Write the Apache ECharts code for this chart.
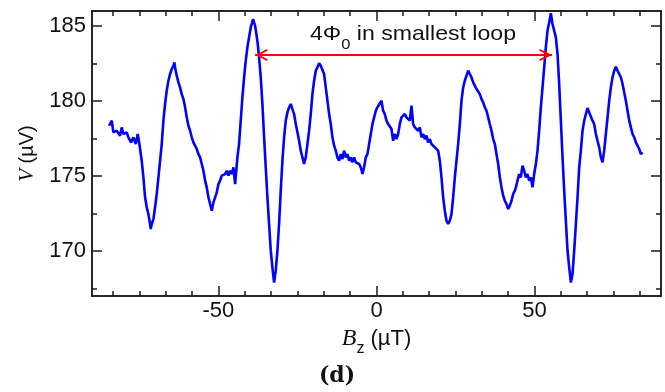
<!DOCTYPE html>
<html>
<head>
<meta charset="utf-8">
<script src="https://cdn.jsdelivr.net/npm/echarts@6.0.0/dist/echarts.min.js"></script>
<style>
html,body{margin:0;padding:0;background:#fff;}
#chart{width:665px;height:392px;}
</style>
</head>
<body>
<div id="chart"></div>
<script>
// Magnetic field B_z (µT)
const bField = [
-84.61,-83.76,-83.23,-82.18,-81.12,-80.60,-80.07,-79.01,-78.49,-77.64,-76.90,-76.17,-75.53,-75.01,-74.27,-73.74,-73.21,-72.68,-72.16,-71.63,-71.42,-71.10,-70.57,-70.05,-69.52,-68.99,-68.46,-67.94,-67.41,-66.88,-66.36,-65.83,-65.30,-64.77,-64.25,-63.93,-63.72,-63.19,-62.66,-62.14,-61.61,-61.08,-60.55,-60.03,-59.50,-58.97,-58.44,-57.92,-57.39,-56.86,-56.33,-55.81,-55.28,-54.75,-54.22,-53.70,-53.17,-52.64,-52.11,-51.59,-51.06,-50.53,-50.00,-49.48,-48.95,-48.42,-47.89,-47.37,-46.84,-46.31,-45.78,-45.26,-44.73,
-44.00,-43.48,-42.95,-42.42,-41.89,-41.36,-40.84,-40.31,-39.78,-39.04,-38.41,-37.99,-37.57,-37.15,-36.62,-36.09,-35.56,-35.04,-34.51,-33.98,-33.45,-32.93,-32.40,-31.87,-31.34,-30.82,-30.29,-29.76,-29.23,-28.71,-28.18,-27.65,-27.12,-26.60,-26.07,-25.54,-25.01,-24.49,-23.96,-23.43,-22.91,-22.38,-21.85,-21.32,-20.80,-20.27,-19.74,-19.21,-18.69,-18.16,-17.63,-17.10,-16.58,-16.05,-15.52,-14.99,-14.47,-13.94,-13.41,-12.88,-12.36,-11.83,-11.30,-10.77,-10.25,-9.72,-9.19,-8.66,-8.14,-7.61,-7.08,-6.55,-6.03,-5.50,-4.97,-4.44,-3.92,-3.39,-2.86,-2.33,-1.81,-1.28,-0.75,-0.22,0.30,0.83,
1.57,2.10,2.63,3.15,3.68,4.21,4.74,5.26,5.79,6.32,6.85,7.37,7.90,8.43,8.96,9.48,10.01,10.54,11.07,11.59,12.12,12.65,13.18,13.70,14.23,14.76,15.29,15.81,16.34,16.87,17.39,17.92,18.45,18.98,19.50,20.03,20.56,21.09,21.61,22.14,22.67,23.20,23.72,24.25,24.78,25.31,25.83,26.36,26.89,27.42,27.94,28.47,29.00,29.53,30.05,30.58,31.11,31.64,32.16,32.69,33.22,33.75,34.27,34.80,35.33,35.85,36.38,36.91,37.44,37.96,38.49,39.02,39.55,40.07,40.60,41.13,41.66,42.18,42.71,43.24,43.77,
44.08,44.61,45.13,45.66,46.19,46.72,47.24,47.77,48.30,48.83,49.35,49.88,50.41,50.94,51.46,51.99,52.52,53.05,53.57,54.10,54.63,55.16,55.68,56.21,56.74,57.27,57.79,58.32,58.85,59.38,59.90,60.43,60.96,61.49,62.01,62.54,63.07,63.60,64.12,64.65,65.18,65.71,66.23,66.76,67.29,67.82,68.34,68.87,69.40,69.92,70.45,70.98,71.51,72.03,72.56,73.09,73.62,74.14,74.67,75.20,75.73,76.25,76.78,77.31,77.84,78.36,78.89,79.42,79.95,80.47,81.00,81.53,82.06,82.58,83.11,83.64,84.17
];
// Voltage V (µV)
const voltage = [
178.35,178.69,177.91,178.02,177.69,178.24,177.80,177.91,177.58,177.24,177.58,177.13,177.80,177.13,176.02,174.91,173.58,172.91,172.46,171.80,171.46,171.80,172.13,172.91,173.80,174.91,176.02,177.13,178.69,179.80,180.69,181.35,181.80,182.13,182.35,182.58,182.24,181.69,181.24,180.91,180.46,180.13,179.58,178.91,178.35,178.02,177.58,177.24,177.02,176.80,176.46,176.24,175.80,175.35,174.69,174.24,173.58,173.13,172.69,173.24,173.35,173.91,174.46,174.69,175.02,174.91,175.13,175.35,175.02,175.35,175.13,175.58,174.46,
176.24,177.13,178.69,180.24,181.58,182.69,183.58,184.24,184.91,185.46,185.02,184.46,183.80,182.91,181.58,179.80,177.58,175.58,173.58,171.80,170.02,168.91,167.90,168.69,170.02,171.80,174.02,176.02,177.58,178.69,179.24,179.58,179.80,179.46,179.13,178.46,177.91,177.35,176.69,176.24,175.80,176.24,177.13,178.02,179.13,180.46,181.35,182.02,182.24,182.51,182.35,182.24,181.80,180.91,180.02,179.13,178.46,177.58,177.02,176.69,176.24,176.02,176.46,176.13,176.69,176.24,176.46,176.02,176.24,175.91,176.24,175.91,176.02,175.80,175.58,175.13,175.58,176.24,176.46,177.13,177.80,178.46,178.91,179.35,179.58,179.69,
180.02,179.35,179.13,178.69,178.46,178.35,178.13,177.35,177.80,177.46,177.80,178.46,178.91,178.80,179.13,178.91,179.02,178.69,179.69,178.46,178.24,178.35,178.02,178.24,177.58,177.80,177.46,177.69,177.24,177.46,177.13,177.24,176.91,177.02,176.69,176.02,174.91,173.58,172.69,172.02,171.80,172.02,172.46,173.58,174.91,176.02,177.13,178.46,180.02,180.91,181.35,181.69,182.02,181.80,181.58,181.24,181.13,180.80,180.69,180.46,180.13,179.91,179.58,179.35,178.91,178.46,178.02,177.46,177.13,176.46,175.80,174.91,174.24,173.69,173.35,173.13,172.80,173.02,173.35,173.80,174.02,
174.24,174.69,175.13,174.91,175.69,175.35,174.91,175.13,174.69,174.91,174.24,175.13,175.80,176.69,178.02,179.58,180.91,182.24,183.58,184.69,185.24,185.85,185.13,184.69,184.24,183.13,181.13,178.69,176.24,174.02,172.02,170.02,168.91,167.90,168.46,170.02,171.80,173.58,175.58,176.69,178.02,178.69,179.13,179.53,179.24,179.13,178.69,178.46,177.80,177.35,176.91,176.24,175.91,176.69,177.80,178.91,180.02,180.91,181.58,182.02,182.29,182.02,181.80,181.58,181.13,180.58,180.02,179.35,178.69,178.24,177.80,177.58,177.24,177.13,176.80,176.46,176.58
];
// Axis ranges and ticks
const xRange = [-90, 90];
const yRange = [167, 186];
const xLabelValues = [-50, 0, 50];
const xMinorTicks = [-83.333, -75, -66.667, -58.333, -41.667, -33.333, -25, -16.667, -8.333, 8.333, 16.667, 25, 33.333, 41.667, 58.333, 66.667, 75, 83.333];
const yLabelValues = [170, 175, 180, 185];
const yMinorTicks = [167.5, 172.5, 177.5, 182.5];
// Annotation arrow endpoints (B, V)
const arrowStart = [-38.4, 183.07];
const arrowEnd = [55.5, 183.07];

const INK = '#1a1a1a';
const SANS = '"Liberation Sans", Arial, sans-serif';
const SERIF = '"Liberation Serif", "Times New Roman", serif';

function xAxisDef(pos, ticks, len, labels) {
  return {
    type: 'value', position: pos, min: xRange[0], max: xRange[1],
    axisLine: { show: true, onZero: false, lineStyle: { color: INK, width: 1.5 } },
    axisTick: { show: true, inside: true, length: len, customValues: ticks, lineStyle: { color: INK, width: 1.5 } },
    axisLabel: labels ? { show: true, customValues: xLabelValues, margin: 4, fontSize: 22, color: '#111', fontFamily: SANS } : { show: false },
    splitLine: { show: false }
  };
}
function yAxisDef(pos, ticks, len, labels) {
  return {
    type: 'value', position: pos, min: yRange[0], max: yRange[1],
    axisLine: { show: true, onZero: false, lineStyle: { color: INK, width: 1.5 } },
    axisTick: { show: true, inside: true, length: len, customValues: ticks, lineStyle: { color: INK, width: 1.5 } },
    axisLabel: labels ? { show: true, customValues: yLabelValues, margin: 6, fontSize: 22, color: '#111', fontFamily: SANS } : { show: false },
    splitLine: { show: false }
  };
}

const xMain = xAxisDef('bottom', xLabelValues, 10, true);
xMain.name = '{i|B}{s|z} (µT)';
xMain.nameLocation = 'middle';
xMain.nameGap = 24;
xMain.nameTextStyle = {
  fontSize: 22, fontFamily: SANS, color: '#111',
  rich: {
    i: { fontSize: 24, fontStyle: 'italic', fontFamily: SERIF, color: '#111' },
    s: { fontSize: 16, fontFamily: SANS, color: '#111', padding: [20, 0, 0, 0] }
  }
};
const yMain = yAxisDef('left', yLabelValues, 10, true);
yMain.name = '{i|V} (µV)';
yMain.nameLocation = 'middle';
yMain.nameGap = 50;
yMain.nameTextStyle = {
  fontSize: 20, fontFamily: SANS, color: '#111',
  rich: { i: { fontSize: 21, fontStyle: 'italic', fontFamily: SERIF, color: '#111' } }
};

const seriesData = bField.map((b, i) => [b, voltage[i]]);
const chevron = 'path://M0,0 L6,12 L4.2,12.6 L0,4 L-4.2,12.6 L-6,12 Z';

const option = {
  animation: false,
  backgroundColor: '#ffffff',
  grid: { left: 92, right: 4, top: 11, bottom: 96, outerBoundsMode: 'none', containLabel: false },
  xAxis: [
    xMain,
    xAxisDef('bottom', xMinorTicks, 5, false),
    xAxisDef('top', xLabelValues, 10, false),
    xAxisDef('top', xMinorTicks, 5, false)
  ],
  yAxis: [
    yMain,
    yAxisDef('left', yMinorTicks, 5, false),
    yAxisDef('right', yLabelValues, 10, false),
    yAxisDef('right', yMinorTicks, 5, false)
  ],
  series: [{
    type: 'line',
    data: seriesData,
    showSymbol: false,
    symbol: 'none',
    smooth: false,
    sampling: 'none',
    lineStyle: { color: '#0000ff', width: 2.6 },
    markLine: {
      silent: true,
      symbol: [chevron, chevron],
      symbolSize: [12, 12.6],
      symbolOffset: [[0, 6.3], [0, 6.3]],
      lineStyle: { color: '#ff0000', width: 2, type: 'solid' },
      itemStyle: { color: '#ff0000' },
      label: { show: false },
      data: [[{ coord: arrowStart }, { coord: arrowEnd }]]
    }
  }],
  graphic: [
    {
      type: 'text', x: 413, y: 34, scaleX: 1.1,
      style: {
        text: '{m|4Φ}{s|0}{m| in smallest loop}',
        align: 'center', verticalAlign: 'middle',
        rich: {
          m: { fontSize: 21, fontFamily: SANS, fill: '#111' },
          s: { fontSize: 15, fontFamily: SANS, fill: '#111', padding: [22, 0, 0, 0] }
        }
      }
    },
    {
      type: 'text', x: 337, y: 376,
      style: {
        text: '(d)', align: 'center', verticalAlign: 'middle',
        font: 'bold 22px "DejaVu Serif", serif', fill: '#111'
      }
    }
  ]
};

const chart = echarts.init(document.getElementById('chart'), null, { renderer: 'canvas' });
chart.setOption(option);
</script>
</body>
</html>
